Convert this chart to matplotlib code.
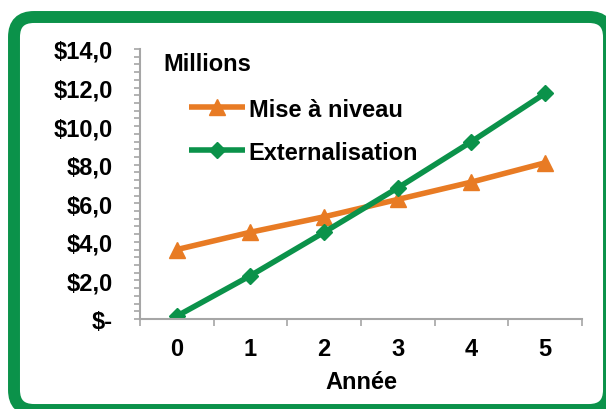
import numpy as np
import matplotlib
matplotlib.use("Agg")
import matplotlib.pyplot as plt
from matplotlib.patches import FancyBboxPatch
from matplotlib.ticker import MultipleLocator, FuncFormatter

# Police : Arial gras -> Liberation Sans
plt.rcParams['font.family'] = ['Liberation Sans', 'DejaVu Sans']
plt.rcParams['font.weight'] = 'bold'
plt.rcParams['axes.labelweight'] = 'bold'
plt.rcParams['font.size'] = 17

# Données (en millions de $)
annees = [0, 1, 2, 3, 4, 5]
mise_a_niveau = [3.6, 4.5, 5.3, 6.2, 7.1, 8.1]
externalisation = [0.15, 2.25, 4.5, 6.8, 9.2, 11.7]

vert = '#0B924A'
orange = '#E87B24'
gris = '#A6A6A6'

fig = plt.figure(figsize=(6.06, 4.10), dpi=100)
fig.patch.set_facecolor('white')

# Cadre vert arrondi autour du graphique (coordonnées en pouces)
cadre = FancyBboxPatch((0.14, -0.01), 5.95, 3.93,
                       boxstyle="round,pad=0,rounding_size=0.2",
                       transform=fig.dpi_scale_trans,
                       facecolor='white', edgecolor=vert, linewidth=8.6,
                       clip_on=False, zorder=0)
fig.add_artist(cadre)

ax = fig.add_axes([140 / 606, 90 / 410, 442 / 606, 270 / 410])
ax.set_facecolor('none')

ax.plot(annees, mise_a_niveau, color=orange, linewidth=4, marker='^',
        markersize=11, label='Mise à niveau', solid_capstyle='butt')
ax.plot(annees, externalisation, color=vert, linewidth=4, marker='D',
        markersize=8.5, label='Externalisation', solid_capstyle='butt')

ax.set_xlim(-0.5, 5.5)
ax.set_ylim(0, 14)

# Axe Y : format comptable
def fmt_dollar(v, pos):
    if abs(v) < 1e-9:
        return '$-'
    return '${:.1f}'.format(v).replace('.', ',')

ax.yaxis.set_major_locator(MultipleLocator(2))
ax.yaxis.set_minor_locator(MultipleLocator(0.4))
ax.yaxis.set_major_formatter(FuncFormatter(fmt_dollar))
ax.tick_params(axis='y', which='both', direction='out', length=4.5,
               width=1.2, color=gris, pad=15)

# Axe X : graduations entre les catégories
ax.set_xticks(annees)
ax.set_xticks(np.arange(-0.5, 6, 1), minor=True)
ax.tick_params(axis='x', which='major', length=0, pad=13)
ax.tick_params(axis='x', which='minor', direction='out', length=5,
               width=1.2, color=gris)
ax.set_xlabel('Année', labelpad=7, fontweight='bold')

# décalage du libellé "$-"
ax.yaxis.get_major_ticks()[0].set_pad(20)

for s in ['top', 'right']:
    ax.spines[s].set_visible(False)
for s in ['left', 'bottom']:
    ax.spines[s].set_color(gris)
    ax.spines[s].set_linewidth(1.5)

ax.text(0.052, 0.945, 'Millions', transform=ax.transAxes, va='center', ha='left')

ax.legend(loc='upper left', bbox_to_anchor=(0.11, 0.82), frameon=False,
          handlelength=2.37, handletextpad=0.17, labelspacing=0.85,
          borderpad=0, borderaxespad=0, numpoints=1)

fig.savefig('out.png', dpi=100)
